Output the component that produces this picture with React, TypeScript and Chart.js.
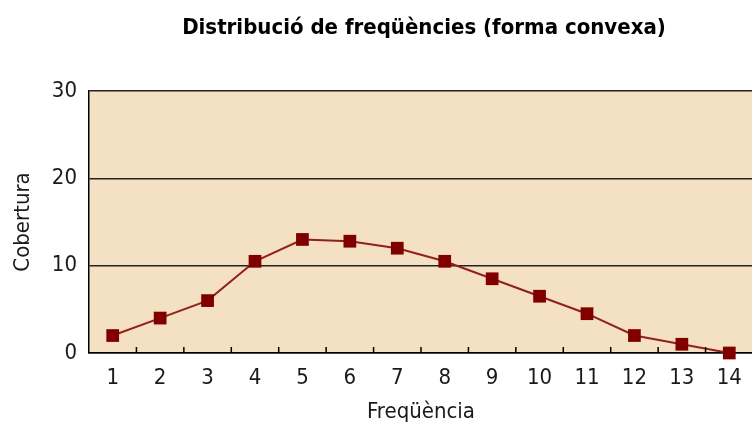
import React, { useEffect, useRef } from "react";
import { Chart, registerables } from "chart.js";

Chart.register(...registerables);

const TITLE = "Distribució de freqüències (forma convexa)";
const X_TITLE = "Freqüència";
const Y_TITLE = "Cobertura";
const categories = ["1", "2", "3", "4", "5", "6", "7", "8", "9", "10", "11", "12", "13", "14"];
const coverage = [2, 4, 6, 10.5, 13, 12.8, 12, 10.5, 8.5, 6.5, 4.5, 2, 1, 0];
const yTicks = [0, 10, 20, 30];

const FONT = "'DejaVu Sans Condensed', 'Liberation Sans', sans-serif";
const BG = "#F4E0C2";
const DARK_RED = "#800000";
const LINE_RED = "#931E1E";

const CW = 770;
const CH = 423;

const decorPlugin = {
  id: "decor",
  beforeDraw(chart: any) {
    const { ctx, chartArea } = chart;
    ctx.save();
    ctx.fillStyle = BG;
    ctx.fillRect(chartArea.left, chartArea.top, chartArea.right - chartArea.left, chartArea.bottom - chartArea.top);
    ctx.restore();
  },
  afterDraw(chart: any) {
    const { ctx, chartArea, scales } = chart;
    const xs = scales.x;
    ctx.save();
    ctx.strokeStyle = "#000";
    ctx.lineWidth = 1.5;
    for (let i = 0; i < categories.length - 1; i++) {
      const px = (xs.getPixelForValue(i) + xs.getPixelForValue(i + 1)) / 2;
      ctx.beginPath();
      ctx.moveTo(px, chartArea.bottom);
      ctx.lineTo(px, chartArea.bottom - 6);
      ctx.stroke();
    }
    ctx.fillStyle = "#000";
    ctx.font = "bold 22px " + FONT;
    ctx.textAlign = "center";
    ctx.textBaseline = "middle";
    ctx.fillText(TITLE, (chartArea.left + chartArea.right) / 2 + 3, 28);
    ctx.restore();
  },
};

export default function App() {
  const ref = useRef<HTMLCanvasElement | null>(null);
  useEffect(() => {
    document.body.style.margin = "0";
    document.body.style.overflow = "hidden";
    const chart = new Chart(ref.current as HTMLCanvasElement, {
      type: "line",
      data: {
        labels: categories,
        datasets: [
          {
            data: coverage,
            borderColor: LINE_RED,
            backgroundColor: DARK_RED,
            borderWidth: 2,
            pointStyle: "rect",
            pointRadius: 9,
            pointBorderWidth: 0,
            pointBackgroundColor: DARK_RED,
            fill: false,
            tension: 0,
            clip: false as any,
          },
        ],
      },
      options: {
        animation: false,
        responsive: false,
        devicePixelRatio: 1,
        layout: { padding: { top: 91, left: 0, right: CW - 753, bottom: 0 } },
        plugins: { legend: { display: false }, title: { display: false }, tooltip: { enabled: false } },
        scales: {
          x: {
            offset: true,
            grid: { display: false },
            border: { display: true, color: "#000", width: 1.5 },
            ticks: { color: "#1a1a1a", font: { family: FONT, size: 22 }, padding: 4, maxRotation: 0, autoSkip: false },
            title: { display: true, text: X_TITLE, color: "#1a1a1a", font: { family: FONT, size: 22 }, padding: { top: 0, bottom: -2 } },
            afterFit: (s: any) => {
              s.height = CH - 353;
            },
          },
          y: {
            min: 0,
            max: 30,
            afterBuildTicks: (s: any) => {
              s.ticks = yTicks.map((v) => ({ value: v }));
            },
            grid: { color: "#222", lineWidth: 1.5, drawTicks: false },
            border: { display: true, color: "#000", width: 1.5 },
            ticks: { color: "#1a1a1a", font: { family: FONT, size: 22 }, padding: 12 },
            title: { display: true, text: Y_TITLE, color: "#1a1a1a", font: { family: FONT, size: 22 }, padding: { top: 10, bottom: 0 } },
            afterFit: (s: any) => {
              s.width = 89;
            },
          },
        },
      },
      plugins: [decorPlugin],
    } as any);
    return () => chart.destroy();
  }, []);
  return (
    <div style={{ position: "absolute", left: 0, top: 0, width: 752, height: CH, overflow: "hidden", background: "#fff" }}>
      <canvas ref={ref} width={CW} height={CH} style={{ width: CW, height: CH, display: "block" }} />
    </div>
  );
}
